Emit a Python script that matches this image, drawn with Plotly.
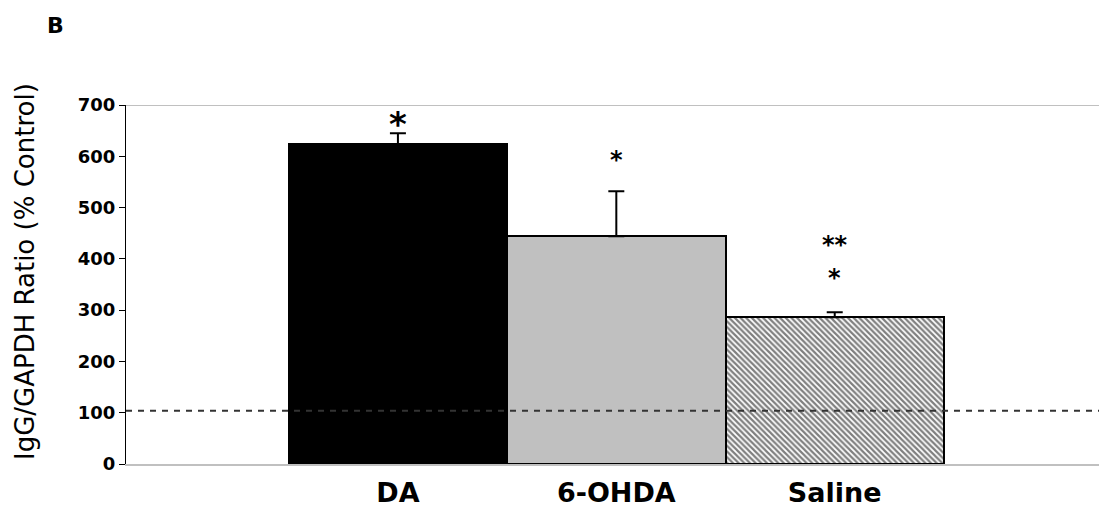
import plotly.graph_objects as go

categories = ["DA", "6-OHDA", "Saline"]
values = [623, 444, 286]
errors = [22, 88, 10]
colors = ["#000000", "#c0c0c0", "#ffffff"]
patterns = ["", "", "\\"]
y_ticks = [0, 100, 200, 300, 400, 500, 600, 700]
control_level = 104
sig_marks = [("*", 0, 662, 34), ("*", 1, 592, 24), ("**", 2, 428, 24), ("*", 2, 362, 24)]
y_title = "IgG/GAPDH Ratio (% Control)"

FONT = "DejaVu Sans"
W, H = 1099, 514
ML, MR, MT, MB = 126, 0, 105, 50
PW, PH = W - ML - MR, H - MT - MB

fig = go.Figure()
for i, cat in enumerate(categories):
    fig.add_trace(go.Bar(
        x=[i], y=[values[i]], width=1,
        marker=dict(
            color=colors[i],
            line=dict(color="black", width=2),
            pattern=dict(shape=patterns[i], size=4, solidity=0.55,
                         fgcolor="black", fillmode="overlay"),
        ),
        error_y=dict(type="data", array=[errors[i]], arrayminus=[0], symmetric=False,
                     color="black", thickness=2, width=8),
        showlegend=False, name=cat,
    ))

fig.add_shape(type="line", xref="paper", yref="y", x0=0, x1=1, y0=control_level, y1=control_level,
              line=dict(color="#333333", width=2, dash="6px,6px"), layer="above")
fig.add_shape(type="line", xref="paper", yref="y", x0=0, x1=1, y0=700, y1=700,
              line=dict(color="#c0c0c0", width=2), layer="below")

for txt, xi, yv, sz in sig_marks:
    fig.add_annotation(x=xi, y=yv, xref="x", yref="y", text="<b>" + txt + "</b>", showarrow=False,
                       font=dict(family=FONT, size=sz, color="black"))

fig.add_annotation(x=(55 - ML) / PW, y=1 + (MT - 25) / PH,
                   xref="paper", yref="paper", xanchor="center", yanchor="middle",
                   text="<b>B</b>", showarrow=False,
                   font=dict(family=FONT, size=22, color="black"))

fig.add_annotation(x=(25 - ML) / PW, y=1 - (272 - MT) / PH,
                   xref="paper", yref="paper", xanchor="center", yanchor="middle",
                   text=y_title, textangle=-90, showarrow=False,
                   font=dict(family=FONT, size=26, color="black"))

fig.update_layout(
    width=W, height=H,
    margin=dict(l=ML, r=MR, t=MT, b=MB),
    paper_bgcolor="white", plot_bgcolor="white",
    bargap=0, barmode="overlay",
    xaxis=dict(range=[-1.245, 3.21], tickvals=list(range(len(categories))),
               ticktext=["<b>" + c + "</b>" for c in categories],
               tickfont=dict(family=FONT, size=27, color="black"),
               showline=True, linecolor="#c0c0c0", linewidth=2, showgrid=False,
               ticks="", zeroline=False, ticklabelstandoff=4),
    yaxis=dict(range=[0, 700], tickvals=y_ticks,
               ticktext=["<b>" + str(v) + "</b>" for v in y_ticks],
               tickfont=dict(family=FONT, size=18, color="black"),
               showline=True, linecolor="black", linewidth=1, ticks="outside", ticklen=6,
               tickcolor="black", showgrid=False, zeroline=False),
)

fig.write_html("out.html")
